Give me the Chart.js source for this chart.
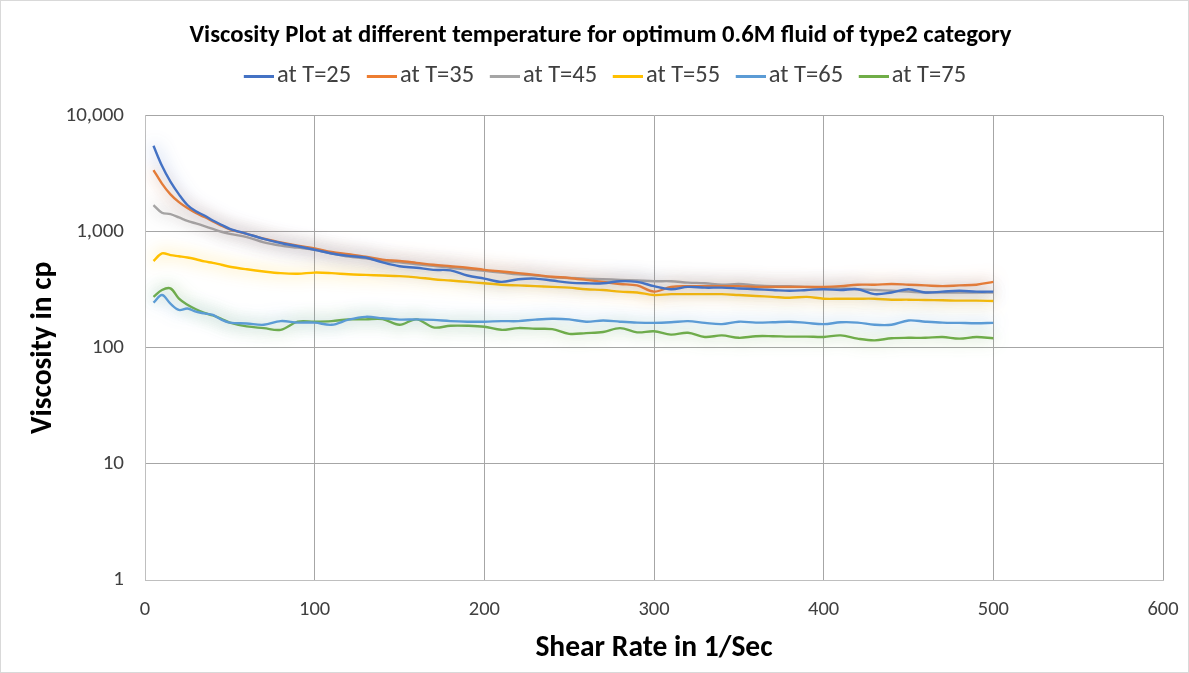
<!DOCTYPE html>
<html>
<head>
<meta charset="utf-8">
<script src="https://cdn.jsdelivr.net/npm/chart.js@4/dist/chart.umd.min.js"></script>
<style>
html,body{margin:0;padding:0;background:#fff;}
#wrap{position:relative;width:1189px;height:673px;box-sizing:border-box;border:1px solid #d9d9d9;}
canvas{display:block;}
</style>
</head>
<body>
<div id="wrap"><canvas id="c" width="1187" height="671"></canvas></div>
<script>
const shearRate = [5,10,15,20,25,30,35,40,45,50,60,70,80,90,100,110,120,130,140,150,160,170,180,190,200,210,220,230,240,250,260,270,280,290,300,310,320,330,340,350,360,370,380,390,400,410,420,430,440,450,460,470,480,490,500];
const seriesNames = ["at T=25","at T=35","at T=45","at T=55","at T=65","at T=75"];
const visc25 = [5500,3700,2700,2100,1700,1500,1380,1250,1150,1060,960,870,800,750,700,650,620,600,545,505,490,470,465,420,395,370,390,395,380,365,360,360,375,370,340,320,335,330,330,325,320,315,310,315,320,315,320,290,300,320,300,305,310,305,305];
const visc35 = [3400,2600,2100,1800,1600,1450,1340,1230,1130,1050,960,870,810,760,720,670,640,610,575,560,540,520,505,490,470,455,440,425,410,400,385,370,355,345,305,335,340,340,340,340,335,335,335,335,335,340,350,350,355,350,345,340,345,350,370];
const visc45 = [1700,1460,1420,1330,1240,1180,1120,1060,1000,960,900,810,760,730,700,650,610,590,560,545,525,510,490,475,460,445,430,420,405,400,395,390,385,380,375,375,365,360,350,355,345,340,340,335,330,325,320,315,310,305,300,300,300,300,300];
const visc55 = [560,650,630,615,600,580,555,540,520,500,475,455,440,435,445,440,430,425,420,415,405,390,380,370,360,350,345,340,335,330,320,315,305,300,285,290,290,290,290,285,280,275,270,275,265,265,265,265,260,260,258,257,255,255,253];
const visc65 = [245,285,240,212,218,205,198,192,175,165,162,158,170,165,165,158,175,185,180,175,176,174,170,168,168,170,170,175,178,176,168,172,168,165,164,166,170,164,160,168,165,166,168,164,160,166,165,158,158,172,168,165,164,163,164];
const visc75 = [275,315,325,265,235,215,200,190,178,165,153,148,143,168,168,170,176,176,177,158,176,150,155,155,152,143,148,146,145,132,134,137,148,136,139,130,135,124,128,122,126,126,125,125,124,128,120,116,121,122,122,124,120,124,121];
const yTickValues = [1,10,100,1000,10000];
const xTickStep = 100;

const colors = ["#4472C4","#ED7D31","#A5A5A5","#FFC000","#5B9BD5","#70AD47"];
const glows = ["rgba(68,114,196,0.75)","rgba(237,125,49,0.75)","rgba(130,130,130,0.7)","rgba(255,192,0,0.75)","rgba(91,155,213,0.75)","rgba(112,173,71,0.75)"];
const allSeries = [visc25,visc35,visc45,visc55,visc65,visc75];
const FONT = "Carlito, 'Liberation Sans', Arial, sans-serif";

// legend line swatches: 48px wide canvas, visible line in the right 30px
const swatches = colors.map(c => {
  const cv = document.createElement('canvas');
  cv.width = 48; cv.height = 3;
  const g = cv.getContext('2d');
  g.fillStyle = c;
  g.fillRect(18, 0, 30, 3);
  return cv;
});

const datasets = allSeries.map((vals, i) => ({
  label: seriesNames[i],
  data: shearRate.map((x, j) => ({x: x, y: vals[j]})),
  borderColor: colors[i],
  backgroundColor: colors[i],
  borderWidth: 2.4,
  pointRadius: 0,
  tension: 0.35,
  fill: false
}));

const glowPlugin = {
  id: 'glow',
  beforeDatasetDraw(chart, args) {
    const ctx = chart.ctx;
    ctx.save();
    ctx.shadowColor = glows[args.index];
    ctx.shadowBlur = 16;
    ctx.shadowOffsetX = 0;
    ctx.shadowOffsetY = 0;
  },
  afterDatasetDraw(chart) {
    chart.ctx.restore();
  }
};

new Chart(document.getElementById('c'), {
  type: 'line',
  data: { datasets },
  plugins: [glowPlugin],
  options: {
    responsive: false,
    animation: false,
    layout: { padding: { left: 37, right: 25, top: 0, bottom: 0 } },
    plugins: {
      title: {
        display: true,
        text: 'Viscosity Plot at different temperature for optimum 0.6M fluid of type2 category',
        font: { family: FONT, size: 24.7, weight: 'bold' },
        color: '#000',
        padding: { top: 20.2, bottom: 6.2 }
      },
      subtitle: {
        display: true,
        text: ' ',
        weight: 500,
        font: { family: FONT, size: 10 },
        padding: { top: 5.4, bottom: 0 }
      },
      legend: {
        display: true,
        position: 'top',
        labels: {
          font: { family: FONT, size: 24.5 },
          color: '#404040',
          usePointStyle: true,
          pointStyleWidth: 29.75,
          padding: 6.75,
          generateLabels(chart) {
            const items = Chart.defaults.plugins.legend.labels.generateLabels(chart);
            items.forEach((it) => { it.pointStyle = swatches[it.datasetIndex]; });
            return items;
          }
        }
      },
      tooltip: { enabled: false }
    },
    scales: {
      x: {
        type: 'linear',
        min: 0,
        max: 600,
        ticks: { stepSize: xTickStep, color: '#404040', font: { family: FONT, size: 20.5 }, padding: 3 },
        grid: { color: '#a6a6a6', lineWidth: 1, drawTicks: true, tickLength: 15, tickColor: 'rgba(0,0,0,0)' },
        border: { color: '#bfbfbf', width: 1 },
        title: { display: true, text: 'Shear Rate in 1/Sec', color: '#000', font: { family: FONT, size: 29.5, weight: 'bold' }, padding: { top: 0, bottom: 5.3 } },
        afterFit(scale) { scale.height = 92; }
      },
      y: {
        type: 'logarithmic',
        min: 1,
        max: 10000,
        afterBuildTicks(scale) { scale.ticks = yTickValues.map(v => ({ value: v })); },
        ticks: {
          color: '#404040',
          font: { family: FONT, size: 21 },
          padding: 21,
          callback: (v) => Number(v).toLocaleString('en-US')
        },
        grid: { color: '#a6a6a6', lineWidth: 1, drawTicks: false },
        border: { color: '#bfbfbf', width: 1 },
        title: { display: true, text: 'Viscosity in cp', color: '#000', font: { family: FONT, size: 29.5, weight: 'bold' }, padding: { top: -11.7, bottom: 0 } },
        afterFit(scale) { scale.width = 107; }
      }
    }
  }
});
</script>
</body>
</html>
